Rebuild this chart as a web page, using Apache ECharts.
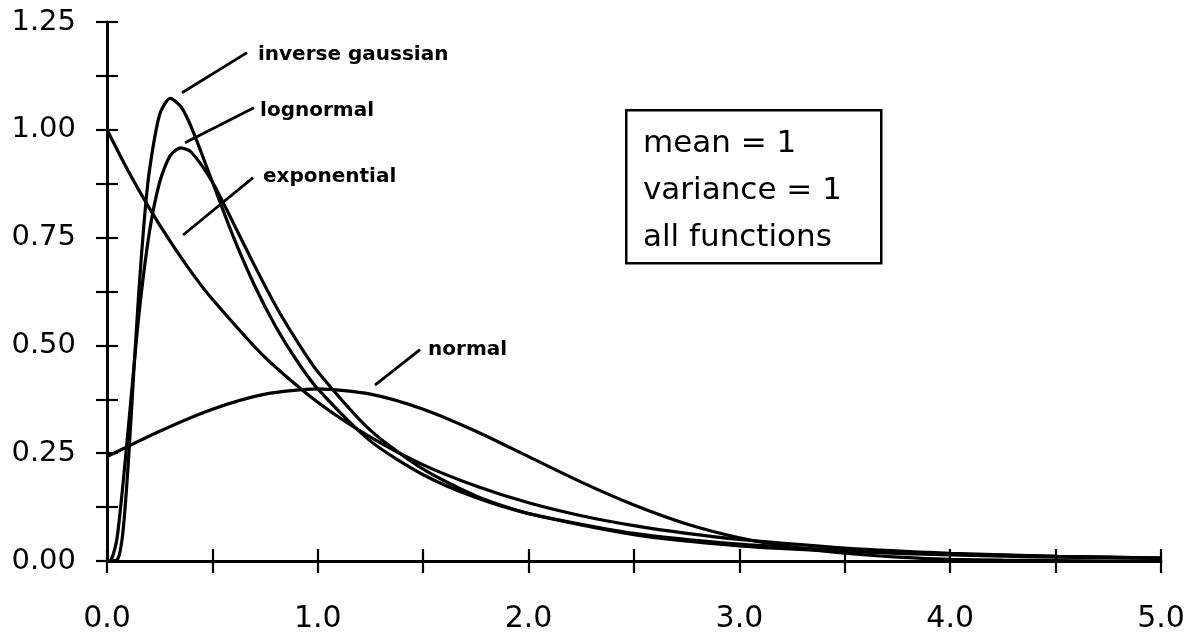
<!DOCTYPE html>
<html>
<head>
<meta charset="utf-8">
<script src="https://cdn.jsdelivr.net/npm/echarts@6/dist/echarts.min.js"></script>
<style>
html,body{margin:0;padding:0;background:#fff;}
#chart{width:1195px;height:635px;}
</style>
</head>
<body>
<div id="chart"></div>
<script>
// ---- data ----
const expX = [0,0.1,0.2,0.3,0.4,0.5,0.75,1,1.25,1.5,1.75,2,2.25,2.5,2.75,3,3.5,4,4.5,5];
const expY = [1,0.905,0.819,0.741,0.670,0.607,0.472,0.368,0.287,0.223,0.174,0.135,0.105,0.082,0.064,0.050,0.030,0.018,0.011,0.007];

const normX = [0,0.25,0.5,0.75,1,1.25,1.5,1.75,2,2.25,2.5,2.75,3,3.25,3.5,3.75,4,4.25,4.5,4.75,5];
const normY = [0.242,0.301,0.352,0.387,0.399,0.387,0.352,0.301,0.242,0.183,0.130,0.086,0.054,0.032,0.018,0.009,0.004,0.002,0.001,0.000,0.000];

const logX = [0,0.02,0.05,0.1,0.15,0.2,0.25,0.3,0.35,0.4,0.5,0.6,0.7,0.8,0.9,1.0,1.25,1.5,1.75,2,2.5,3,3.5,4,4.5,5];
const logY = [0,0.0025,0.061,0.303,0.564,0.759,0.879,0.940,0.958,0.948,0.879,0.783,0.685,0.592,0.511,0.439,0.303,0.213,0.151,0.110,0.061,0.035,0.022,0.014,0.009,0.006];

const igX = [0,0.05,0.075,0.1,0.125,0.15,0.175,0.2,0.25,0.3,0.35,0.4,0.5,0.6,0.7,0.8,0.9,1,1.25,1.5,1.75,2,2.5,3,3.5,4,4.5,5];
const igY = [0,0.004,0.065,0.220,0.422,0.618,0.780,0.901,1.036,1.073,1.054,1.006,0.879,0.751,0.639,0.544,0.465,0.399,0.278,0.200,0.147,0.110,0.064,0.039,0.025,0.016,0.011,0.007];

// annotation labels (text, anchor x, anchor y) and leader lines [x1,y1,x2,y2]
const labelNames = ['inverse gaussian','lognormal','exponential','normal'];
const labelX = [0.716,0.726,0.740,1.523];
const labelY = [1.174,1.044,0.891,0.490];
const leaders = [
  [0.356,1.086,0.664,1.179],
  [0.370,0.970,0.697,1.051],
  [0.361,0.756,0.693,0.889],
  [1.271,0.408,1.485,0.490]
];
const boxLines = ['mean = 1','variance = 1','all functions'];

const xMin = 0, xMax = 5, xStep = 0.5;
const yMin = 0, yMax = 1.25, yStep = 0.125;

const zip = (xs, ys) => xs.map((x, i) => [x, ys[i]]);

const chart = echarts.init(document.getElementById('chart'), null, {renderer:'canvas'});

const curveStyle = {color:'#000', width:3.2};
function curve(name, xs, ys){
  return {
    name, type:'line', data: zip(xs, ys), showSymbol:false, symbol:'none',
    smooth:0.25, lineStyle:curveStyle, silent:true, z:3,
    xAxisIndex:0, yAxisIndex:0
  };
}

const series = [
  curve('exponential', expX, expY),
  curve('normal', normX, normY),
  curve('lognormal', logX, logY),
  curve('inverse gaussian', igX, igY)
];
leaders.forEach((l, i) => {
  series.push({
    type:'line', data:[[l[0],l[1]],[l[2],l[3]]], symbol:'none',
    lineStyle:{color:'#000', width:2.8}, silent:true, z:4
  });
});
series.push({
  type:'scatter', symbolSize:0, silent:true, z:5,
  itemStyle:{opacity:1, color:'#000'},
  data: labelNames.map((n, i) => ({name:n, value:[labelX[i], labelY[i]]})),
  label:{
    show:true, position:'right', distance:0, formatter: p => p.name,
    color:'#000', opacity:1, fontFamily:'DejaVu Sans', fontWeight:'bold', fontSize:20
  }
});

const labelFont = {fontFamily:'DejaVu Sans', color:'#000'};

const option = {
  animation:false,
  backgroundColor:'#fff',
  grid:{left:107, right:34, top:22, bottom:74, containLabel:false},
  xAxis:[
    {
      type:'value', min:xMin, max:xMax, interval:xStep, position:'bottom',
      axisLine:{show:true, onZero:false, lineStyle:{color:'#000', width:3}},
      axisTick:{show:true, inside:false, length:12, lineStyle:{color:'#000', width:2.2}},
      axisLabel:Object.assign({
        show:true, fontSize:30, margin:43,
        formatter: v => (Math.abs(v - Math.round(v)) < 1e-9 ? v.toFixed(1) : '')
      }, labelFont),
      splitLine:{show:false}
    },
    {
      type:'value', min:xMin, max:xMax, interval:xStep, position:'bottom',
      axisLine:{show:false},
      axisTick:{show:true, inside:true, length:12, lineStyle:{color:'#000', width:2.2}},
      axisLabel:{show:false}, splitLine:{show:false}
    }
  ],
  yAxis:[
    {
      type:'value', min:yMin, max:yMax, interval:yStep, position:'left',
      axisLine:{show:true, onZero:false, lineStyle:{color:'#000', width:3}},
      axisTick:{show:true, inside:false, length:11, lineStyle:{color:'#000', width:2.2}},
      axisLabel:Object.assign({
        show:true, fontSize:29, margin:31,
        formatter: v => (Math.abs(v / 0.25 - Math.round(v / 0.25)) < 1e-9 ? v.toFixed(2) : '')
      }, labelFont),
      splitLine:{show:false}
    },
    {
      type:'value', min:yMin, max:yMax, interval:yStep, position:'left',
      axisLine:{show:false},
      axisTick:{show:true, inside:true, length:11, lineStyle:{color:'#000', width:2.2}},
      axisLabel:{show:false}, splitLine:{show:false}
    }
  ],
  series,
  graphic:[
    {
      type:'rect', left:625, top:109, z:10,
      shape:{width:255, height:153},
      style:{fill:'#fff', stroke:'#000', lineWidth:2.5}
    },
    ...boxLines.map((t, i) => ({
      type:'text', left:643, top:128 + i*47, z:11,
      style:{text:t, fill:'#000', font:'31px "DejaVu Sans"'}
    }))
  ]
};
chart.setOption(option);
</script>
</body>
</html>
